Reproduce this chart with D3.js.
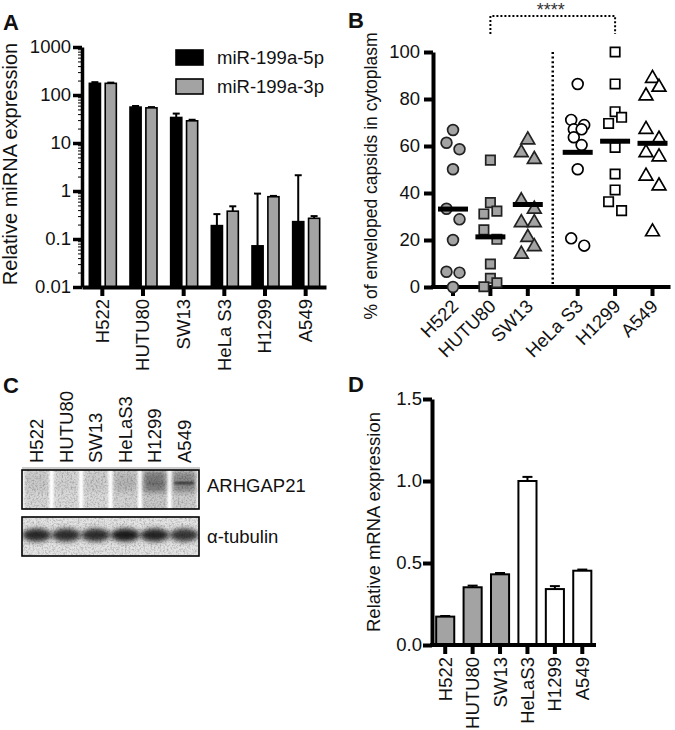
<!DOCTYPE html>
<html><head><meta charset="utf-8">
<script src="https://cdn.jsdelivr.net/npm/d3@7"></script>
<style>
html,body{margin:0;padding:0;background:#fff;}
svg{display:block;font-family:"Liberation Sans",Arial,Helvetica,sans-serif;}
</style></head><body>
<svg id="fig" width="675" height="730"></svg>
<script>
// ---------------- DATA ----------------
// Panel A
const catsA = ["H522", "HUTU80", "SW13", "HeLa S3", "H1299", "A549"];
const seriesA = ["miR-199a-5p", "miR-199a-3p"];
const mir5p = [175, 56, 34, 0.19, 0.072, 0.23];
const mir5pErr = [10, 3, 7, 0.14, 0.81, 1.9];
const mir3p = [175, 54, 29, 0.38, 0.76, 0.27];
const mir3pErr = [6, 2, 1.5, 0.1, 0.03, 0.03];
const ticksA = [0.01, 0.1, 1, 10, 100, 1000];
const tickLabelsA = ["0.01", "0.1", "1", "10", "100", "1000"];

// Panel B
const catsB = ["H522", "HUTU80", "SW13", "HeLa S3", "H1299", "A549"];
const groupB = ["low", "low", "low", "high", "high", "high"];
const shapeB = ["circle", "square", "triangle", "circle", "square", "triangle"];
const ptsH522 = [66.8, 61.4, 58.6, 50.1, 33.3, 28.8, 20.0, 6.5, 6.1, 0.0];
const ptsHUTU80 = [54.0, 35.9, 32.3, 31.1, 24.3, 20.3, 9.8, 3.7, 1.8, 0.1];
const ptsSW13 = [62.6, 57.2, 54.3, 36.7, 33.1, 27.4, 27.4, 21.1, 17.2, 14.0];
const ptsHeLa = [86.4, 71.1, 68.9, 67.1, 67.1, 63.7, 60.4, 50.1, 20.7, 17.6];
const ptsH1299 = [100, 86.4, 74.6, 72.2, 69.6, 59.4, 48.1, 41.3, 36.3, 32.5];
const ptsA549 = [88.8, 85.0, 81.3, 67.1, 62.9, 57.2, 55.4, 47.2, 43.0, 23.5];
const ticksB = [0, 20, 40, 60, 80, 100];
const sigLabel = "****";
const sigPair = ["HUTU80", "H1299"];

// Panel C (western blot, relative band intensities)
const catsC = ["H522", "HUTU80", "SW13", "HeLaS3", "H1299", "A549"];
const blotNames = ["ARHGAP21", "\u03b1-tubulin"];
const arhgapLane = [0.25, 0.23, 0.24, 0.27, 0.32, 0.3];
const arhgapSmear = [0.06, 0.04, 0.06, 0.12, 0.38, 0.32];
const arhgapBand = [0, 0, 0, 0.04, 0.12, 0.7];
const tubulinBand = [0.82, 0.8, 0.8, 0.88, 0.84, 0.76];

// Panel D
const catsD = ["H522", "HUTU80", "SW13", "HeLaS3", "H1299", "A549"];
const groupD = ["low", "low", "low", "high", "high", "high"];
const mrna = [0.173, 0.352, 0.431, 1.0, 0.341, 0.453];
const mrnaErr = [0.004, 0.01, 0.008, 0.025, 0.018, 0.007];
const ticksD = [0, 0.5, 1.0, 1.5];

// ---------------- DRAW ----------------
const FONT = '"Liberation Sans",Arial,Helvetica,sans-serif';
const svg = d3.select("#fig");
const fillGroup = d3.scaleOrdinal().domain(["low", "high"]).range(["#a3a3a3", "#ffffff"]);
const TICK_FS = 18.5;

function styleAxis(g, w, fs) {
  g.attr("font-family", FONT).attr("font-size", fs);
  g.select(".domain").attr("stroke", "#000").attr("stroke-width", w);
  g.selectAll(".tick line").attr("stroke", "#000").attr("stroke-width", w);
  g.selectAll(".tick text").attr("fill", "#111");
}
function panelLabel(t, x, y) {
  svg.append("text").attr("x", x).attr("y", y).text(t)
    .attr("font-size", 22).attr("font-weight", "bold").attr("fill", "#111");
}
function yTitle(t, x, y, fs) {
  svg.append("text").attr("transform", `translate(${x},${y}) rotate(-90)`)
    .attr("text-anchor", "middle").attr("font-size", fs).attr("fill", "#111").text(t);
}

// ===== Panel A =====
panelLabel("A", 3, 30);
const xA = d3.scaleBand().domain(catsA).range([82, 326]);
const xSub = d3.scaleBand().domain(seriesA).range([-13, 14]).paddingInner(0.3);
const yA = d3.scaleLog().domain([0.01, 1000]).range([287, 47]);
const gA = svg.append("g");
const dataA = [];
catsA.forEach((c, i) => {
  dataA.push({ c, s: seriesA[0], v: mir5p[i], e: mir5pErr[i] });
  dataA.push({ c, s: seriesA[1], v: mir3p[i], e: mir3pErr[i] });
});
const colA = d3.scaleOrdinal().domain(seriesA).range(["#000", "#a3a3a3"]);
gA.selectAll(".errA").data(dataA).join("g").each(function (d) {
  const cx = xA(d.c) + xA.bandwidth() / 2 + xSub(d.s) + xSub.bandwidth() / 2;
  const g = d3.select(this);
  g.append("line").attr("x1", cx).attr("x2", cx).attr("y1", yA(d.v)).attr("y2", yA(d.v + d.e))
    .attr("stroke", "#000").attr("stroke-width", 2);
  g.append("line").attr("x1", cx - 3.5).attr("x2", cx + 3.5).attr("y1", yA(d.v + d.e)).attr("y2", yA(d.v + d.e))
    .attr("stroke", "#000").attr("stroke-width", 2);
});
gA.selectAll(".barA").data(dataA).join("rect")
  .attr("x", d => xA(d.c) + xA.bandwidth() / 2 + xSub(d.s))
  .attr("width", xSub.bandwidth())
  .attr("y", d => yA(d.v))
  .attr("height", d => yA(0.01) - yA(d.v))
  .attr("fill", d => colA(d.s)).attr("stroke", "#000").attr("stroke-width", 1.6);
const minorA = [];
ticksA.slice(0, -1).forEach(t => { for (let k = 2; k <= 9; k++) minorA.push(t * k); });
svg.append("g").attr("transform", "translate(82,0)")
  .call(d3.axisLeft(yA).tickValues(minorA).tickSize(4).tickFormat(""))
  .call(g => { g.select(".domain").remove(); g.selectAll("line").attr("stroke", "#000").attr("stroke-width", 1); });
svg.append("g").attr("transform", "translate(82,0)")
  .call(d3.axisLeft(yA).tickValues(ticksA).tickFormat((d, i) => tickLabelsA[i]).tickSize(9).tickPadding(2).tickSizeOuter(0))
  .call(g => styleAxis(g, 3.5, TICK_FS));
svg.append("g").attr("transform", "translate(0,287)")
  .call(d3.axisBottom(xA).tickSize(9).tickSizeOuter(0))
  .call(g => {
    styleAxis(g, 4, TICK_FS);
    g.selectAll(".tick text").attr("transform", "rotate(-90)").attr("x", -12).attr("y", 0)
      .attr("dy", "0.35em").attr("text-anchor", "end");
  });
yTitle("Relative miRNA expression", 17, 164, 20);
const legA = svg.append("g");
seriesA.forEach((s, i) => {
  legA.append("rect").attr("x", 176).attr("y", 50 + i * 29).attr("width", 27).attr("height", 15)
    .attr("fill", colA(s)).attr("stroke", "#000").attr("stroke-width", 1.6);
  legA.append("text").attr("x", 217).attr("y", 64 + i * 29).attr("font-size", 18.5).attr("fill", "#111").text(s);
});

// ===== Panel B =====
panelLabel("B", 348, 28);
const ptsB = [ptsH522, ptsHUTU80, ptsSW13, ptsHeLa, ptsH1299, ptsA549];
const xBp = d3.scalePoint().domain(catsB).range([453, 640]);
const gapB = 12.5;
const xB = c => xBp(c) + (groupB[catsB.indexOf(c)] === "high" ? gapB : 0);
const yB = d3.scaleLinear().domain([0, 100]).range([287, 52]);
const axXB = 433;
svg.append("g").attr("transform", `translate(${axXB},0)`)
  .call(d3.axisLeft(yB).tickValues(ticksB).tickSize(9).tickPadding(4).tickSizeOuter(0))
  .call(g => styleAxis(g, 4, TICK_FS));
const xEndB = xB(catsB[catsB.length - 1]) + 18;
const gxB = svg.append("g").attr("transform", "translate(0,287)");
gxB.append("line").attr("x1", axXB - 2).attr("x2", xEndB).attr("y1", 0).attr("y2", 0).attr("stroke", "#000").attr("stroke-width", 4);
catsB.forEach(c => {
  const t = gxB.append("g").attr("transform", `translate(${xB(c)},0)`);
  t.append("line").attr("y1", 0).attr("y2", 9).attr("stroke", "#000").attr("stroke-width", 4);
  t.append("text").attr("transform", "translate(2,16) rotate(-45)").attr("text-anchor", "end")
    .attr("dy", "0.35em").attr("font-size", TICK_FS).attr("fill", "#111").text(c);
});
yTitle("% of enveloped capsids in cytoplasm", 377, 176, 17.5);
const divX = (xB(catsB[2]) + xB(catsB[3])) / 2;
svg.append("line").attr("x1", divX).attr("x2", divX).attr("y1", yB(100)).attr("y2", yB(0))
  .attr("stroke", "#000").attr("stroke-width", 2.5).attr("stroke-dasharray", "2,2.6");
const bx1 = xB(sigPair[0]), bx2 = xB(sigPair[1]);
svg.append("path").attr("d", `M${bx1},34V16H${bx2}V34`).attr("fill", "none")
  .attr("stroke", "#000").attr("stroke-width", 2).attr("stroke-dasharray", "2,2");
svg.append("text").attr("x", (bx1 + bx2) / 2 - 2).attr("y", 16).attr("text-anchor", "middle")
  .attr("font-size", 18).attr("fill", "#333").text(sigLabel);
function swarmOffsets(values, yS, s, thr) {
  const idx = d3.range(values.length).sort((a, b) => values[b] - values[a]);
  const off = new Array(values.length).fill(0);
  let cl = [];
  const flush = () => {
    const n = cl.length;
    let p;
    if (n === 1) p = [0];
    else if (n === 2) p = [-s, s];
    else if (n === 3) p = [0, s, -s];
    else p = cl.map((_, i) => (i % 2 ? s : -s) * (i < 2 ? 1 : 0.6));
    cl.forEach((k, i) => off[k] = p[i]);
    cl = [];
  };
  idx.forEach(k => {
    if (cl.length && Math.abs(yS(values[k]) - yS(values[cl[cl.length - 1]])) > thr) flush();
    cl.push(k);
  });
  flush();
  return off;
}
const symType = { circle: d3.symbolCircle, square: d3.symbolSquare, triangle: d3.symbolTriangle };
const symSize = { circle: 92, square: 88, triangle: 82 };
catsB.forEach((c, gi) => {
  const vals = ptsB[gi];
  const off = swarmOffsets(vals, yB, 6.5, 11);
  const g = svg.append("g");
  g.selectAll("path").data(vals).join("path")
    .attr("d", d3.symbol().type(symType[shapeB[gi]]).size(symSize[shapeB[gi]]))
    .attr("transform", (d, i) => `translate(${xB(c) + off[i]},${yB(d)})`)
    .attr("fill", fillGroup(groupB[gi]))
    .attr("stroke", groupB[gi] === "low" ? "#222" : "#000")
    .attr("stroke-width", 1.7);
  const m = d3.mean(vals);
  g.append("line").attr("x1", xB(c) - 15).attr("x2", xB(c) + 15).attr("y1", yB(m)).attr("y2", yB(m))
    .attr("stroke", "#000").attr("stroke-width", 5);
});

// ===== Panel C =====
panelLabel("C", 3, 393);
const xC = d3.scaleBand().domain(catsC).range([22, 199]);
const defs = svg.append("defs");
const f1 = defs.append("filter").attr("id", "speck").attr("x", "-20%").attr("y", "-20%").attr("width", "140%").attr("height", "140%");
f1.append("feGaussianBlur").attr("in", "SourceGraphic").attr("stdDeviation", 1.0).attr("result", "b");
f1.append("feTurbulence").attr("type", "fractalNoise").attr("baseFrequency", 0.55).attr("numOctaves", 2).attr("seed", 4).attr("result", "n");
f1.append("feColorMatrix").attr("in", "n").attr("type", "matrix")
  .attr("values", "0 0 0 0 0  0 0 0 0 0  0 0 0 0 0  0 0 0 1.1 -0.45").attr("result", "na");
f1.append("feComposite").attr("in", "na").attr("in2", "b").attr("operator", "in").attr("result", "nm");
const fm = f1.append("feMerge");
fm.append("feMergeNode").attr("in", "b");
fm.append("feMergeNode").attr("in", "nm");
defs.append("filter").attr("id", "blur3").attr("x", "-50%").attr("y", "-50%").attr("width", "200%").attr("height", "200%")
  .append("feGaussianBlur").attr("stdDeviation", 2.5);
defs.append("filter").attr("id", "blur1").attr("x", "-50%").attr("y", "-200%").attr("width", "200%").attr("height", "500%")
  .append("feGaussianBlur").attr("stdDeviation", 0.9);
defs.append("clipPath").attr("id", "clipA")
  .append("rect").attr("x", 22).attr("y", 470).attr("width", 177).attr("height", 39);
defs.append("clipPath").attr("id", "clipT")
  .append("rect").attr("x", 22).attr("y", 517).attr("width", 177).attr("height", 39);

catsC.forEach(c => {
  svg.append("text").attr("transform", `translate(${xC(c) + xC.bandwidth() / 2},463) rotate(-90)`)
    .attr("dy", "0.35em").attr("font-size", TICK_FS).attr("fill", "#111").text(c);
});
svg.append("line").attr("x1", 22).attr("x2", 200).attr("y1", 468).attr("y2", 468).attr("stroke", "#999").attr("stroke-width", 1);
const gBA = svg.append("g").attr("clip-path", "url(#clipA)");
gBA.append("rect").attr("x", 22).attr("y", 470).attr("width", 177).attr("height", 39).attr("fill", "#fff");
catsC.forEach((c, i) => {
  const lx = xC(c) + xC.bandwidth() / 2;
  gBA.append("rect").attr("x", lx - 12.5).attr("y", 468).attr("width", 25).attr("height", 44)
    .attr("fill", d3.interpolateGreys(arhgapLane[i])).attr("filter", "url(#speck)");
  gBA.append("rect").attr("x", lx - 11).attr("y", 472).attr("width", 22).attr("height", 20)
    .attr("fill", "#000").attr("opacity", arhgapSmear[i]).attr("filter", "url(#blur3)");
  gBA.append("rect").attr("x", lx - 10).attr("y", 482).attr("width", 20).attr("height", 2.2)
    .attr("fill", "#000").attr("opacity", arhgapBand[i]).attr("filter", "url(#blur1)");
});
svg.append("rect").attr("x", 22).attr("y", 470).attr("width", 177).attr("height", 39)
  .attr("fill", "none").attr("stroke", "#000").attr("stroke-width", 1.6);
const gBT = svg.append("g").attr("clip-path", "url(#clipT)");
gBT.append("rect").attr("x", 22).attr("y", 517).attr("width", 177).attr("height", 39).attr("fill", "#e4e4e4").attr("filter", "url(#speck)");
catsC.forEach((c, i) => {
  const lx = xC(c) + xC.bandwidth() / 2;
  gBT.append("ellipse").attr("cx", lx).attr("cy", 535).attr("rx", 14.5).attr("ry", 6.5)
    .attr("fill", "#000").attr("opacity", tubulinBand[i]).attr("filter", "url(#blur3)");
});
svg.append("rect").attr("x", 22).attr("y", 517).attr("width", 177).attr("height", 39)
  .attr("fill", "none").attr("stroke", "#000").attr("stroke-width", 1.6);
svg.append("text").attr("x", 207).attr("y", 492).attr("font-size", TICK_FS).attr("fill", "#111").text(blotNames[0]);
svg.append("text").attr("x", 207).attr("y", 543).attr("font-size", TICK_FS).attr("fill", "#111").text(blotNames[1]);

// ===== Panel D =====
panelLabel("D", 348, 392);
const xD = d3.scaleBand().domain(catsD).range([431.5, 596]).paddingInner(0.34).paddingOuter(0.17);
const yD = d3.scaleLinear().domain([0, 1.5]).range([645, 399]);
const gD = svg.append("g");
catsD.forEach((c, i) => {
  const cx = xD(c) + xD.bandwidth() / 2;
  gD.append("line").attr("x1", cx).attr("x2", cx).attr("y1", yD(mrna[i])).attr("y2", yD(mrna[i] + mrnaErr[i]))
    .attr("stroke", "#000").attr("stroke-width", 2);
  gD.append("line").attr("x1", cx - 5).attr("x2", cx + 5).attr("y1", yD(mrna[i] + mrnaErr[i])).attr("y2", yD(mrna[i] + mrnaErr[i]))
    .attr("stroke", "#000").attr("stroke-width", 2);
});
gD.selectAll(".barD").data(catsD).join("rect")
  .attr("x", c => xD(c)).attr("width", xD.bandwidth())
  .attr("y", (c, i) => yD(mrna[i])).attr("height", (c, i) => yD(0) - yD(mrna[i]))
  .attr("fill", (c, i) => fillGroup(groupD[i])).attr("stroke", "#000").attr("stroke-width", 2);
svg.append("g").attr("transform", "translate(432,0)")
  .call(d3.axisLeft(yD).tickValues(ticksD).tickFormat(d3.format(".1f")).tickSize(9).tickPadding(1).tickSizeOuter(0))
  .call(g => styleAxis(g, 4, TICK_FS));
svg.append("g").attr("transform", "translate(0,645)")
  .call(d3.axisBottom(xD).tickSize(9).tickSizeOuter(0))
  .call(g => {
    styleAxis(g, 4, TICK_FS);
    g.select(".domain").attr("d", "M430,0H596");
    g.selectAll(".tick text").attr("transform", "rotate(-90)").attr("x", -12).attr("y", 0)
      .attr("dy", "0.35em").attr("text-anchor", "end");
  });
yTitle("Relative mRNA expression", 380, 522, 18.5);
</script>
</body></html>
